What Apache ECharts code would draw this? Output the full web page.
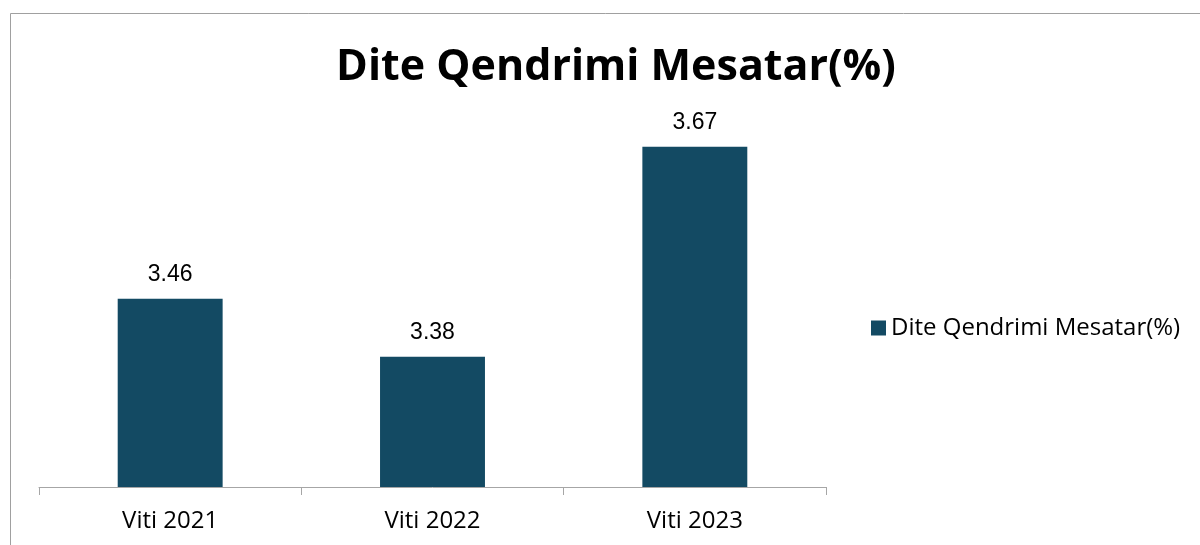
<!DOCTYPE html>
<html><head><meta charset="utf-8">
<script src="https://cdn.jsdelivr.net/npm/echarts@6/dist/echarts.min.js"></script>
<style>html,body{margin:0;padding:0;background:#fff}#c{width:1200px;height:545px}</style>
</head><body><div id="c"></div>
<script>
const categories = ['Viti 2021', 'Viti 2022', 'Viti 2023'];
const values = [3.46, 3.38, 3.67];
const seriesName = 'Dite Qendrimi Mesatar(%)';
const titleText = 'Dite Qendrimi Mesatar(%)';
const chart = echarts.init(document.getElementById('c'));
chart.setOption({
  animation: false,
  backgroundColor: '#fff',
  graphic: [{type:'rect', shape:{x:10.5,y:13.5,width:1300,height:700}, style:{fill:'none',stroke:'#a0a0a0',lineWidth:1}, silent:true, z:-1}],
  title: {text: titleText, left: 611, top: 41, textAlign: 'center',
    textStyle: {fontFamily: 'Open Sans', fontWeight: 'bold', fontSize: 43, color: '#000'}},
  legend: {orient:'vertical', left: 866, top: 311, itemWidth: 15, itemHeight: 15, itemGap: 5,
    icon: 'rect', textStyle: {fontFamily: 'Open Sans', fontSize: 24, color: '#000'}, data:[seriesName]},
  grid: {left: 39, right: 374, top: 125, bottom: 58},
  xAxis: {type:'category', data: categories,
    axisLine:{lineStyle:{color:'#a6a6a6', width:1}},
    axisTick:{show:true, length:8, lineStyle:{color:'#a6a6a6'}},
    axisLabel:{fontFamily:'Open Sans', fontSize:24, color:'#000', margin:22}},
  yAxis: {type:'value', min:3.2, max:3.7, show:false, splitLine:{show:false}},
  series: [{name: seriesName, type:'bar', data: values, barWidth:'40%',
    itemStyle:{color:'#134a63'},
    label:{show:true, position:'top', distance:13, fontFamily:'Liberation Sans', fontSize:23, color:'#000',
      formatter: p => p.value.toFixed(2)}}]
});
</script></body></html>
